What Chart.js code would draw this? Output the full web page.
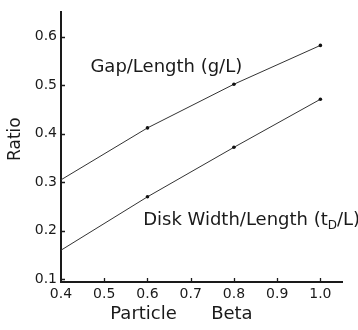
<!DOCTYPE html>
<html>
<head>
<meta charset="utf-8">
<script src="https://cdn.jsdelivr.net/npm/chart.js@4"></script>
<style>
  html, body { margin: 0; padding: 0; background: #fff; }
  canvas { display: block; }
</style>
</head>
<body>
<canvas id="c" width="358" height="330"></canvas>
<script>
// ---- data ----
const betas = [0.4, 0.6, 0.8, 1.0];
const gapRatio = [0.305, 0.412, 0.502, 0.582];
const diskRatio = [0.16, 0.27, 0.372, 0.471];
const xTicks = [0.4, 0.5, 0.6, 0.7, 0.8, 0.9, 1.0];
const yTicks = [0.1, 0.2, 0.3, 0.4, 0.5, 0.6];

const FONT = "'DejaVu Sans', sans-serif";
const INK = '#1a1a1a';

const toPts = (ys) => betas.map((b, i) => ({ x: b, y: ys[i] }));

const insideTicks = {
  id: 'insideTicks',
  afterDraw(chart) {
    const { ctx, scales: { x, y }, chartArea } = chart;
    ctx.save();
    ctx.strokeStyle = INK;
    ctx.lineWidth = 1.3;
    ctx.beginPath();
    xTicks.forEach(v => {
      if (v === x.min) return;
      const px = Math.round(x.getPixelForValue(v)) + 0.5;
      ctx.moveTo(px, chartArea.bottom);
      ctx.lineTo(px, chartArea.bottom - 4);
    });
    yTicks.forEach(v => {
      const py = Math.round(y.getPixelForValue(v)) + 0.5;
      ctx.moveTo(chartArea.left, py);
      ctx.lineTo(chartArea.left + 4, py);
    });
    ctx.stroke();
    ctx.restore();
  }
};

const curveLabels = {
  id: 'curveLabels',
  afterDraw(chart) {
    const { ctx, scales: { x, y } } = chart;
    ctx.save();
    ctx.fillStyle = INK;
    ctx.textBaseline = 'alphabetic';
    ctx.textAlign = 'left';
    const big = "18px " + FONT;
    const small = "12px " + FONT;
    // Gap label
    ctx.font = big;
    ctx.fillText('Gap/Length (g/L)', x.getPixelForValue(0.468), y.getPixelForValue(0.528));
    // Disk label with subscript
    let px = x.getPixelForValue(0.59);
    const py = y.getPixelForValue(0.212);
    const parts = [
      ['Disk Width/Length (t', big, 0],
      ['D', small, 4],
      ['/L)', big, 0]
    ];
    parts.forEach(([t, f, dy]) => {
      ctx.font = f;
      ctx.fillText(t, px, py + dy);
      px += ctx.measureText(t).width;
    });
    ctx.restore();
  }
};

new Chart(document.getElementById('c'), {
  type: 'scatter',
  data: {
    datasets: [
      {
        label: 'Gap/Length (g/L)',
        data: toPts(gapRatio),
        showLine: true,
        borderColor: '#333',
        backgroundColor: '#111',
        borderWidth: 1,
        pointRadius: [0, 1.8, 1.8, 1.8],
        pointBorderWidth: 0,
        tension: 0
      },
      {
        label: 'Disk Width/Length (tD/L)',
        data: toPts(diskRatio),
        showLine: true,
        borderColor: '#333',
        backgroundColor: '#111',
        borderWidth: 1,
        pointRadius: [0, 1.8, 1.8, 1.8],
        pointBorderWidth: 0,
        tension: 0
      }
    ]
  },
  options: {
    responsive: false,
    animation: false,
    layout: { padding: { top: 7, right: 16, left: 0, bottom: 0 } },
    plugins: { legend: { display: false }, tooltip: { enabled: false } },
    scales: {
      x: {
        type: 'linear',
        min: 0.4,
        max: 1.05,
        afterBuildTicks: s => { s.ticks = xTicks.map(v => ({ value: v })); },
        afterFit: s => { s.height = 48; },
        ticks: {
          callback: v => Number(v).toFixed(1),
          font: { size: 14, family: FONT },
          color: INK,
          padding: 4,
          autoSkip: false,
          maxRotation: 0
        },
        grid: { display: true, drawOnChartArea: false, drawTicks: false },
        border: { display: true, color: INK, width: 2 },
        title: {
          display: true,
          text: 'Particle      Beta       ',
          font: { size: 18, family: FONT },
          color: INK,
          padding: { top: 0, bottom: 5 }
        }
      },
      y: {
        type: 'linear',
        min: 0.0945,
        max: 0.65,
        afterBuildTicks: s => { s.ticks = yTicks.map(v => ({ value: v })); },
        afterFit: s => { s.width = 61; },
        ticks: {
          callback: v => Number(v).toFixed(1),
          font: { size: 14, family: FONT },
          color: INK,
          padding: 4
        },
        grid: { display: true, drawOnChartArea: false, drawTicks: false },
        border: { display: true, color: INK, width: 2 },
        title: {
          display: true,
          text: '   Ratio',
          font: { size: 17, family: FONT },
          color: INK,
          padding: { top: 5, bottom: 0 }
        }
      }
    }
  },
  plugins: [insideTicks, curveLabels]
});
</script>
</body>
</html>
